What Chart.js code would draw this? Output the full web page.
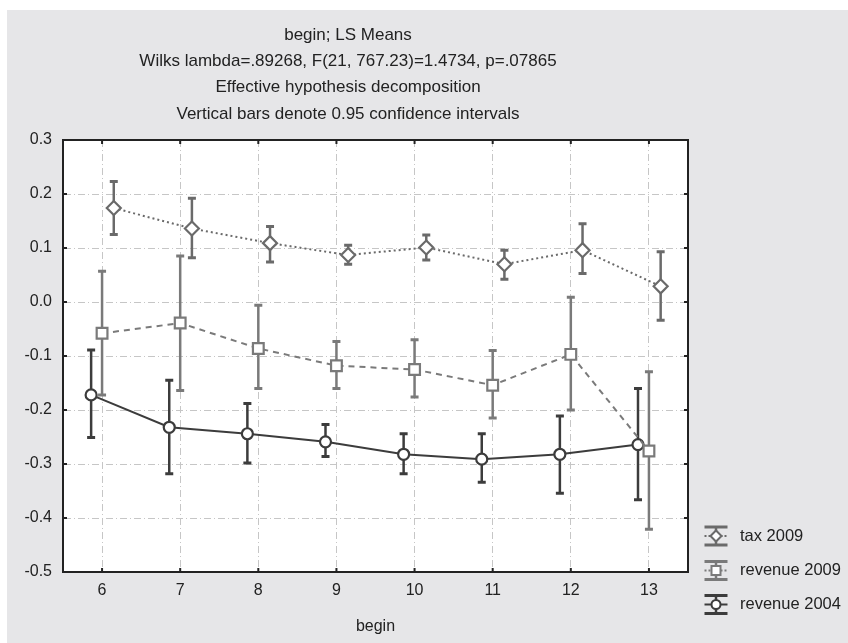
<!DOCTYPE html>
<html>
<head>
<meta charset="utf-8">
<script src="https://cdn.jsdelivr.net/npm/chart.js@4"></script>
<style>
  html, body { margin: 0; padding: 0; background: #fff; }
  #wrap { width: 848px; height: 643px; }
</style>
</head>
<body>
<div id="wrap"><canvas id="chart" width="848" height="643"></canvas></div>
<script>
// begin (x categories)
const begins = [6, 7, 8, 9, 10, 11, 12, 13];
const yTicks = [-0.5, -0.4, -0.3, -0.2, -0.1, 0.0, 0.1, 0.2, 0.3];

// LS means and 0.95 confidence limits
const taxMean  = [0.174, 0.136, 0.109, 0.087, 0.101, 0.070, 0.096, 0.029];
const taxLow   = [0.125, 0.082, 0.074, 0.070, 0.078, 0.042, 0.053, -0.034];
const taxHigh  = [0.223, 0.192, 0.140, 0.105, 0.124, 0.096, 0.145, 0.093];

const rev09Mean = [-0.058, -0.039, -0.086, -0.118, -0.125, -0.154, -0.097, -0.276];
const rev09Low  = [-0.172, -0.164, -0.160, -0.160, -0.176, -0.215, -0.200, -0.421];
const rev09High = [0.057, 0.085, -0.006, -0.073, -0.070, -0.090, 0.009, -0.129];

const rev04Mean = [-0.172, -0.232, -0.244, -0.259, -0.282, -0.291, -0.282, -0.264];
const rev04Low  = [-0.251, -0.318, -0.298, -0.286, -0.318, -0.334, -0.354, -0.366];
const rev04High = [-0.089, -0.145, -0.188, -0.227, -0.244, -0.244, -0.211, -0.160];

const titleLines = [
  'begin; LS Means',
  'Wilks lambda=.89268, F(21, 767.23)=1.4734, p=.07865',
  'Effective hypothesis decomposition',
  'Vertical bars denote 0.95 confidence intervals'
];

const FONT = '"Liberation Sans", Arial, sans-serif';
const TEXT = '#222';

function series(label, mean, low, high, color, dash, style, radius, shift) {
  return {
    label: label,
    data: begins.map((b, i) => ({x: b + shift, y: mean[i]})),
    low: low,
    high: high,
    borderColor: color,
    borderWidth: 2,
    borderDash: dash,
    pointStyle: style,
    pointRadius: radius,
    pointHoverRadius: radius,
    pointBackgroundColor: '#fff',
    pointBorderColor: color,
    pointBorderWidth: 2.2,
    tension: 0,
    fill: false
  };
}

const datasets = [
  series('tax 2009', taxMean, taxLow, taxHigh, '#6a6a6a', [2, 3], 'rectRot', 7, 0.15),
  series('revenue 2009', rev09Mean, rev09Low, rev09High, '#7a7a7a', [6, 5], 'rect', 7.6, 0),
  series('revenue 2004', rev04Mean, rev04Low, rev04High, '#3c3c3c', [], 'circle', 5.5, -0.14)
];

function drawBar(ctx, x, yTop, yBot, color, cap) {
  ctx.strokeStyle = color;
  ctx.lineWidth = 2.5;
  ctx.beginPath();
  ctx.moveTo(x, yTop); ctx.lineTo(x, yBot);
  ctx.stroke();
  ctx.lineWidth = 3;
  ctx.beginPath();
  ctx.moveTo(x - cap, yTop); ctx.lineTo(x + cap, yTop);
  ctx.moveTo(x - cap, yBot); ctx.lineTo(x + cap, yBot);
  ctx.stroke();
}

const panelPlugin = {
  id: 'panel',
  beforeDraw(chart) {
    const {ctx, chartArea: a} = chart;
    ctx.save();
    ctx.fillStyle = '#fff';
    ctx.fillRect(0, 0, chart.width, chart.height);
    ctx.fillStyle = '#e6e6e8';
    ctx.fillRect(7, 10, chart.width - 7, chart.height - 10);
    ctx.fillStyle = '#fff';
    ctx.fillRect(a.left, a.top, a.right - a.left, a.bottom - a.top);
    ctx.restore();
  },
  beforeDatasetsDraw(chart) {
    const {ctx} = chart;
    const xs = chart.scales.x, ys = chart.scales.y;
    ctx.save();
    chart.data.datasets.forEach(ds => {
      ds.data.forEach((p, i) => {
        const px = xs.getPixelForValue(p.x);
        drawBar(ctx, px, ys.getPixelForValue(ds.high[i]), ys.getPixelForValue(ds.low[i]), ds.borderColor, 4);
      });
    });
    ctx.restore();
  },
  afterDraw(chart) {
    const {ctx, chartArea: a} = chart;
    const xs = chart.scales.x, ys = chart.scales.y;
    ctx.save();
    // frame
    ctx.strokeStyle = '#222';
    ctx.lineWidth = 2;
    ctx.strokeRect(a.left, a.top, a.right - a.left, a.bottom - a.top);
    // inward tick marks
    ctx.lineWidth = 2;
    ctx.beginPath();
    yTicks.forEach(v => {
      const py = ys.getPixelForValue(v);
      ctx.moveTo(a.left, py); ctx.lineTo(a.left + 4, py);
      ctx.moveTo(a.right, py); ctx.lineTo(a.right - 4, py);
    });
    begins.forEach(v => {
      const px = xs.getPixelForValue(v);
      ctx.moveTo(px, a.bottom); ctx.lineTo(px, a.bottom - 4);
      ctx.moveTo(px, a.top); ctx.lineTo(px, a.top + 4);
    });
    ctx.stroke();

    // title
    ctx.fillStyle = TEXT;
    ctx.font = '17px ' + FONT;
    ctx.textAlign = 'center';
    ctx.textBaseline = 'middle';
    titleLines.forEach((t, i) => ctx.fillText(t, 348, 35 + i * 26.3));

    // legend
    const rows = [536, 570.5, 604.5];
    const cx = 716;
    chart.data.datasets.forEach((ds, i) => {
      const yc = rows[i];
      ctx.strokeStyle = ds.borderColor;
      ctx.lineWidth = 2.5;
      ctx.beginPath();
      ctx.moveTo(cx, yc - 9); ctx.lineTo(cx, yc + 9);
      ctx.stroke();
      ctx.lineWidth = 3;
      ctx.beginPath();
      ctx.moveTo(cx - 11.5, yc - 9); ctx.lineTo(cx + 11.5, yc - 9);
      ctx.moveTo(cx - 11.5, yc + 9); ctx.lineTo(cx + 11.5, yc + 9);
      ctx.stroke();
      ctx.lineWidth = 2;
      ctx.setLineDash(ds.borderDash.length ? [2, 2] : []);
      ctx.beginPath();
      ctx.moveTo(cx - 11.5, yc); ctx.lineTo(cx + 11.5, yc);
      ctx.stroke();
      ctx.setLineDash([]);
      Chart.helpers.drawPoint(ctx, {
        pointStyle: ds.pointStyle, rotation: 0, borderWidth: 2
      }, cx, yc);
      ctx.fillStyle = '#fff';
      ctx.strokeStyle = ds.borderColor;
      ctx.lineWidth = 2;
      ctx.beginPath();
      if (ds.pointStyle === 'rectRot') {
        ctx.moveTo(cx - 5.5, yc); ctx.lineTo(cx, yc - 5.5); ctx.lineTo(cx + 5.5, yc); ctx.lineTo(cx, yc + 5.5); ctx.closePath();
      } else if (ds.pointStyle === 'rect') {
        ctx.rect(cx - 4.5, yc - 4.5, 9, 9);
      } else {
        ctx.arc(cx, yc, 4.5, 0, Math.PI * 2);
      }
      ctx.fill();
      ctx.stroke();
      ctx.fillStyle = TEXT;
      ctx.font = '16.5px ' + FONT;
      ctx.textAlign = 'left';
      ctx.fillText(ds.label, 740, yc);
    });
    ctx.restore();
  }
};

new Chart(document.getElementById('chart'), {
  type: 'line',
  data: {datasets: datasets},
  options: {
    responsive: false,
    animation: false,
    events: [],
    layout: {padding: {left: 0, right: 160, top: 140, bottom: 0}},
    plugins: {
      legend: {display: false},
      title: {display: false},
      tooltip: {enabled: false}
    },
    scales: {
      x: {
        type: 'linear',
        min: 5.5,
        max: 13.5,
        afterFit(scale) { scale.height = 71; },
        afterBuildTicks(scale) { scale.ticks = begins.map(v => ({value: v})); },
        ticks: {
          color: TEXT,
          font: {family: FONT, size: 16},
          padding: 9,
          callback: v => String(v)
        },
        grid: {color: '#c6c6c6', lineWidth: 1, drawTicks: false},
        border: {color: '#222', width: 2, dash: [7, 3, 1, 3]},
        title: {
          display: true,
          text: 'begin',
          color: TEXT,
          font: {family: FONT, size: 16},
          padding: {top: 4, bottom: 7}
        }
      },
      y: {
        min: -0.5,
        max: 0.3,
        afterFit(scale) { scale.width = 63; },
        afterBuildTicks(scale) { scale.ticks = yTicks.map(v => ({value: v})); },
        ticks: {
          color: TEXT,
          font: {family: FONT, size: 16},
          padding: 11,
          callback: v => v.toFixed(1)
        },
        grid: {color: '#c6c6c6', lineWidth: 1, drawTicks: false},
        border: {color: '#222', width: 2, dash: [7, 3, 1, 3]}
      }
    }
  },
  plugins: [panelPlugin]
});
</script>
</body>
</html>
